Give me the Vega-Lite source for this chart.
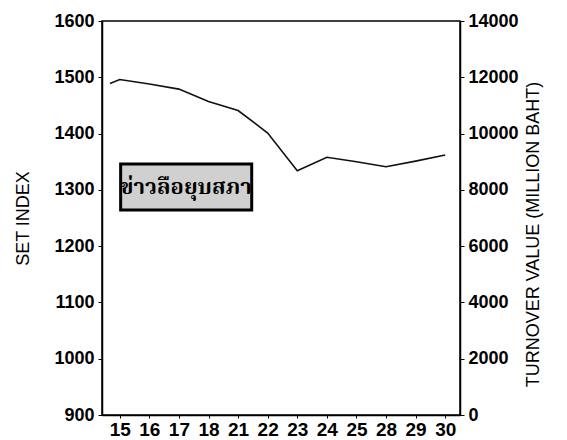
{
  "$schema": "https://vega.github.io/schema/vega-lite/v6.json",
  "autosize": "none",
  "width": 358,
  "height": 394,
  "padding": {"left": 102, "top": 21, "right": 107, "bottom": 25},
  "background": "white",
  "config": {
    "view": {"stroke": "black", "strokeWidth": 1.5},
    "axis": {"grid": false, "domainColor": "black", "domainWidth": 1.5, "tickColor": "black", "labelColor": "black", "titleColor": "black", "labelFont": "Liberation Sans", "titleFont": "Liberation Sans", "titleFontWeight": "normal", "labelFontWeight": "bold"}
  },
  "datasets": {
    "setindex": [
      {"i": -0.33, "set": 1489},
      {"i": 0, "set": 1496},
      {"i": 1, "set": 1488},
      {"i": 2, "set": 1479},
      {"i": 3, "set": 1457},
      {"i": 4, "set": 1441},
      {"i": 5, "set": 1401},
      {"i": 6, "set": 1334},
      {"i": 7, "set": 1358},
      {"i": 8, "set": 1350},
      {"i": 9, "set": 1341},
      {"i": 10, "set": 1351},
      {"i": 11, "set": 1362}
    ],
    "note": [
      {"i": 0.03, "i2": 4.46, "set": 1346, "set2": 1264, "ic": 2.24, "setc": 1305, "label": "ข่าวลือยุบสภา"}
    ],
    "turnover": [{"t": 0}, {"t": 14000}]
  },
  "layer": [
    {
      "layer": [
        {
          "data": {"name": "setindex"},
          "mark": {"type": "line", "color": "#111111", "strokeWidth": 1.6},
          "encoding": {
            "x": {"field": "i", "type": "quantitative", "scale": {"domain": [-0.6, 11.5], "nice": false, "zero": false},
              "axis": {"title": null, "values": [0,1,2,3,4,5,6,7,8,9,10,11], "labelExpr": "['15','16','17','18','21','22','23','24','25','28','29','30'][datum.value]", "tickSize": 3, "labelFont": "Liberation Sans", "labelFontWeight": "bold", "labelFontSize": 19, "labelPadding": 2, "labelOverlap": false, "labelBound": false}},
            "y": {"field": "set", "type": "quantitative", "scale": {"domain": [900, 1600], "nice": false, "zero": false},
              "axis": {"title": "SET INDEX", "format": "d", "values": [900,1000,1100,1200,1300,1400,1500,1600], "tickSize": 4, "labelFont": "Liberation Sans", "labelFontWeight": "bold", "labelFontSize": 18, "labelPadding": 4, "titleFontSize": 18, "titleX": -79, "titleY": 197, "titleAngle": 270, "titleBaseline": "middle", "titleAlign": "center"}}
          }
        },
        {
          "data": {"name": "note"},
          "mark": {"type": "rect", "fill": "#d0d0d0", "stroke": "black", "strokeWidth": 3},
          "encoding": {
            "x": {"field": "i", "type": "quantitative", "scale": {"domain": [-0.6, 11.5], "nice": false, "zero": false},
              "axis": {"title": null, "values": [0,1,2,3,4,5,6,7,8,9,10,11], "labelExpr": "['15','16','17','18','21','22','23','24','25','28','29','30'][datum.value]", "tickSize": 3, "labelFont": "Liberation Sans", "labelFontWeight": "bold", "labelFontSize": 19, "labelPadding": 2, "labelOverlap": false, "labelBound": false}},
            "x2": {"field": "i2"},
            "y": {"field": "set", "type": "quantitative", "scale": {"domain": [900, 1600], "nice": false, "zero": false},
              "axis": {"title": "SET INDEX", "format": "d", "values": [900,1000,1100,1200,1300,1400,1500,1600], "tickSize": 4, "labelFont": "Liberation Sans", "labelFontWeight": "bold", "labelFontSize": 18, "labelPadding": 4, "titleFontSize": 18, "titleX": -79, "titleY": 197, "titleAngle": 270, "titleBaseline": "middle", "titleAlign": "center"}},
            "y2": {"field": "set2"}
          }
        },
        {
          "data": {"name": "note"},
          "mark": {"type": "text", "font": "Noto Serif Thai, Noto Sans Thai, sans-serif", "fontSize": 22, "fontWeight": "bold", "color": "black", "align": "center", "baseline": "middle"},
          "encoding": {
            "x": {"field": "ic", "type": "quantitative", "scale": {"domain": [-0.6, 11.5], "nice": false, "zero": false},
              "axis": {"title": null, "values": [0,1,2,3,4,5,6,7,8,9,10,11], "labelExpr": "['15','16','17','18','21','22','23','24','25','28','29','30'][datum.value]", "tickSize": 3, "labelFont": "Liberation Sans", "labelFontWeight": "bold", "labelFontSize": 19, "labelPadding": 2, "labelOverlap": false, "labelBound": false}},
            "y": {"field": "setc", "type": "quantitative", "scale": {"domain": [900, 1600], "nice": false, "zero": false},
              "axis": {"title": "SET INDEX", "format": "d", "values": [900,1000,1100,1200,1300,1400,1500,1600], "tickSize": 4, "labelFont": "Liberation Sans", "labelFontWeight": "bold", "labelFontSize": 18, "labelPadding": 4, "titleFontSize": 18, "titleX": -79, "titleY": 197, "titleAngle": 270, "titleBaseline": "middle", "titleAlign": "center"}},
            "text": {"field": "label"}
          }
        }
      ]
    },
    {
      "data": {"name": "turnover"},
      "mark": {"type": "point", "opacity": 0},
      "encoding": {
        "y": {"field": "t", "type": "quantitative", "scale": {"domain": [0, 14000], "nice": false},
          "axis": {"orient": "right", "title": "TURNOVER VALUE (MILLION BAHT)", "format": "d", "values": [0,2000,4000,6000,8000,10000,12000,14000], "tickSize": 4, "labelFont": "Liberation Sans", "labelFontWeight": "bold", "labelFontSize": 18, "labelPadding": 4, "titleFontSize": 18, "titleX": 73, "titleY": 213, "titleAngle": 270, "titleBaseline": "middle", "titleAlign": "center"}}
      }
    }
  ],
  "resolve": {"scale": {"y": "independent"}}
}
